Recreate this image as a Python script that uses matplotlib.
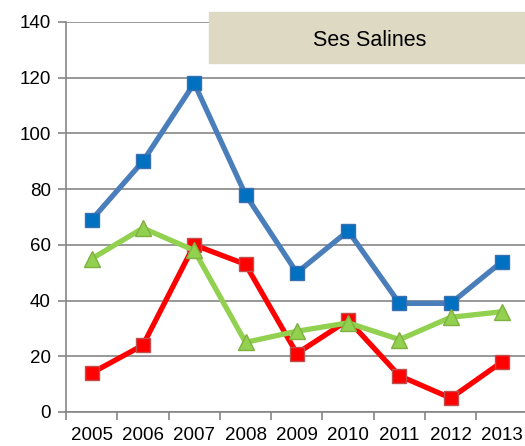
import numpy as np
import matplotlib
matplotlib.use("Agg")
from matplotlib import pyplot as plt

years = ["2005", "2006", "2007", "2008", "2009", "2010", "2011", "2012", "2013"]
blue_vals = [69, 90, 118, 78, 50, 65, 39, 39, 54]
red_vals = [14, 24, 60, 53, 21, 33, 13, 5, 18]
green_vals = [55, 66, 58, 25, 29, 32, 26, 34, 36]

plt.rcParams['font.family'] = ['Liberation Sans', 'DejaVu Sans']

fig = plt.figure(figsize=(5.25, 4.46), dpi=100)
ax = fig.add_axes([66 / 525, 1 - 412 / 446, (9 * 51.3) / 525, 390 / 446])

x = np.arange(len(years))
grey = "#868686"

ax.plot(x, blue_vals, color="#4A7EBB", lw=3.8, marker="s", ms=10,
        mfc="#0070C0", mec="#3A6FB0", mew=1, zorder=3)
ax.plot(x, red_vals, color="#FF0000", lw=3.8, marker="s", ms=10,
        mfc="#FF0000", mec="#C0504D", mew=1, zorder=3)
ax.plot(x, green_vals, color="#92D050", lw=3.8, marker="^", ms=11,
        mfc="#92D050", mec="#7FB040", mew=1, zorder=3)

ax.set_xlim(-0.5, len(years) - 0.5)
ax.set_ylim(0, 140)
ax.set_yticks(range(0, 141, 20))
ax.yaxis.grid(True, color=grey, lw=1.2)
ax.set_axisbelow(True)

ax.set_xticks(x)
ax.set_xticklabels(years, fontsize=13.5)
ax.set_xticks(np.arange(-0.5, len(years)), minor=True)
ax.tick_params(axis="x", which="major", length=0, pad=11)
ax.tick_params(axis="x", which="minor", length=6, color=grey, width=1.2)
ax.tick_params(axis="y", length=6, color=grey, width=1.2, labelsize=13.5, pad=5)

for side in ["top", "right"]:
    ax.spines[side].set_visible(False)
ax.spines["left"].set_color(grey)
ax.spines["left"].set_linewidth(1.2)
ax.spines["bottom"].set_color(grey)
ax.spines["bottom"].set_linewidth(1.2)

# title box
fig.patches.append(plt.Rectangle((209 / 525, 1 - 63 / 446), 320 / 525, 51 / 446,
                                 transform=fig.transFigure, color="#DDD9C3", zorder=5))
fig.text(370 / 525, 1 - 40 / 446, "Ses Salines", ha="center", va="center",
         fontsize=15.5, zorder=6)

fig.savefig("out.png", dpi=100)
